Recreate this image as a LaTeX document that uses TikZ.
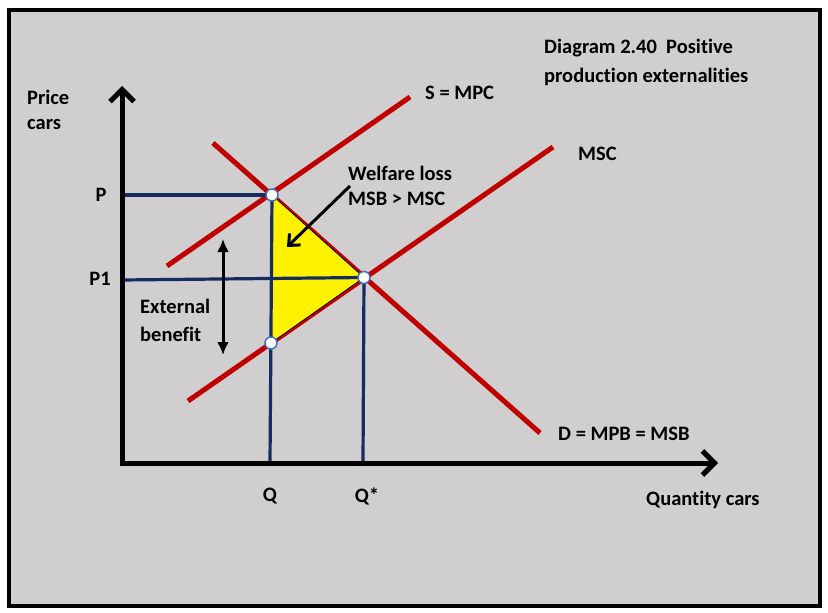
\documentclass[tikz,border=0pt]{standalone}
\usepackage{fontspec}
\setmainfont{Carlito}[Ligatures=NoCommon]
\usetikzlibrary{arrows.meta}
\definecolor{panelgray}{RGB}{208,206,206}
\definecolor{curvered}{RGB}{192,0,0}
\definecolor{guideblue}{RGB}{20,44,98}
\definecolor{dotblue}{RGB}{68,114,196}
\begin{document}
\begin{tikzpicture}[x=1pt,y=-1pt,
    lbl/.style={font=\bfseries\fontsize{20.5}{25}\selectfont, inner sep=0pt, align=left},
    curve/.style={curvered, line width=5pt},
    guide/.style={guideblue, line width=3.2pt},
    dot/.style={circle, draw=dotblue, fill=white, line width=1.5pt, minimum size=12pt, inner sep=0pt},
    axis/.style={line width=5pt, {Straight Barb[length=12pt,width=24pt]}-{Straight Barb[length=12pt,width=24pt]}}]
  \useasboundingbox (0,0) rectangle (828,613);
  \draw[fill=panelgray, line width=4.5pt] (9,10) rectangle (820,606);
  % curve ends
  \coordinate (s0) at (167,266); \coordinate (s1) at (410,97);
  \coordinate (m0) at (188,401); \coordinate (m1) at (553,147);
  \coordinate (d0) at (213,143); \coordinate (d1) at (540,433);
  \draw[curve] (s0) -- (s1);
  \draw[curve] (m0) -- (m1);
  \draw[curve] (d0) -- (d1);
  % equilibrium points and their feet on the axes
  \coordinate (A) at (272,195);
  \coordinate (B) at (364,277.5);
  \coordinate (C) at (271,343);
  \coordinate (O) at (122,463);
  \coordinate (ytop) at (122,86);
  \coordinate (xend) at (718,463);
  \coordinate (pA) at (122,195);
  \coordinate (pB) at (122,280);
  \coordinate (qA) at (270,463);
  \coordinate (qB) at (363,463);
  \filldraw[fill=yellow, draw=black, line width=0.8pt] (A) -- (B) -- (C) -- cycle;
  \draw[guide] (pA) -- (A);
  \draw[guide] (pB) -- (B);
  \draw[guide] (A) -- (qA);
  \draw[guide] (B) -- (qB);
  \draw[axis] (ytop) -- (O) -- (xend);
  \node[dot] (dA) at (A) {};
  \node[dot] (dB) at (B) {};
  \node[dot] (dC) at (C) {};
  % arrows
  \coordinate (wtail) at (350,186);
  \coordinate (whead) at (287,247);
  \draw[line width=3pt, -{Straight Barb[length=9pt,width=16pt]}] (wtail) -- (whead);
  \coordinate (ebtop) at (223,239);
  \coordinate (ebbot) at (223,355);
  \draw[line width=3pt, {Latex[length=13pt,width=12pt]}-{Latex[length=13pt,width=12pt]}] (ebtop) -- (ebbot);
  % labels
  \node[lbl, anchor=west] (price) at (27,110) {Price\\cars};
  \node[lbl] (p) at (101,195) {P};
  \node[lbl] (p1) at (100,279) {P1};
  \node[lbl, anchor=west, text depth=0pt] (ext) at (140,320) {External\\[3pt]benefit};
  \node[lbl, anchor=west] (smpc) at (425,93) {S = MPC};
  \node[lbl, anchor=west] (msc) at (578,154) {MSC};
  \node[lbl, anchor=west] (wl) at (348,186) {Welfare loss\\MSB > MSC};
  \node[lbl, anchor=west] (title) at (544,62) {Diagram 2.40\ \ Positive\\[4pt]production externalities};
  \node[lbl, anchor=west] (dlbl) at (558,434) {D = MPB = MSB};
  \node[lbl] (q) at (270,496) {Q};
  \node[lbl] (qs) at (367,496) {Q*};
  \node[lbl, anchor=west] (qty) at (646,500) {Quantity cars};
\end{tikzpicture}
\end{document}
